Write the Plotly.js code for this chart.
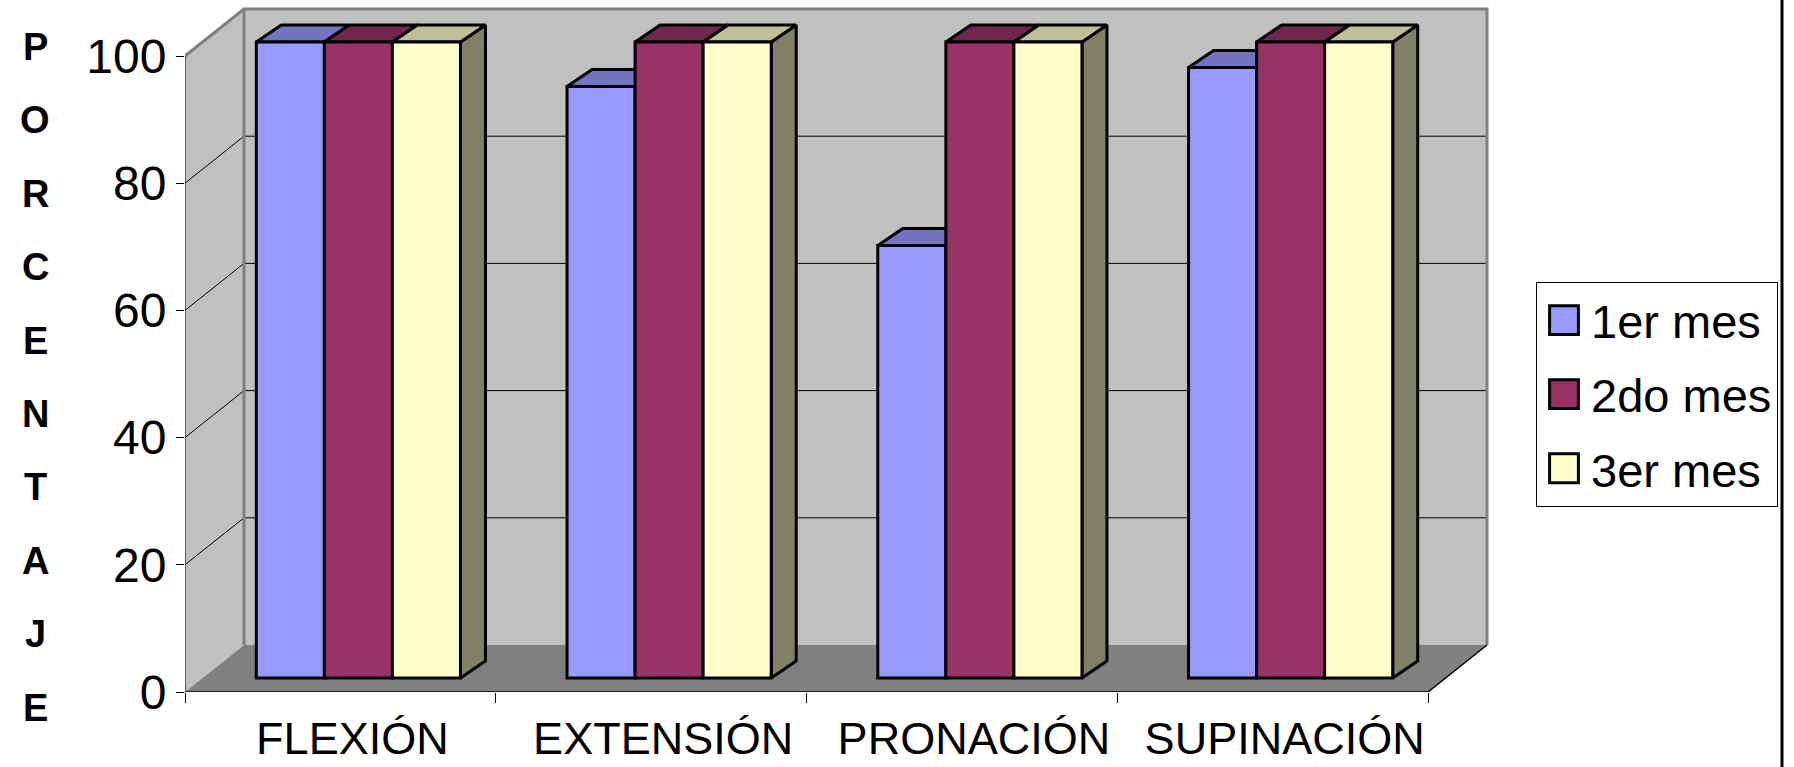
<!DOCTYPE html>
<html><head><meta charset="utf-8">
<script src="https://cdn.plot.ly/plotly-3.0.1.min.js"></script>
<style>html,body{margin:0;padding:0;background:#fff;} #chart{width:1794px;height:767px;}</style>
</head><body><div id="chart"></div>
<script>
// ---------- data ----------
const categories = ['FLEXIÓN', 'EXTENSIÓN', 'PRONACIÓN', 'SUPINACIÓN'];
const seriesNames = ['1er mes', '2do mes', '3er mes'];
const mes1 = [100, 93, 68, 96];
const mes2 = [100, 100, 100, 100];
const mes3 = [100, 100, 100, 100];
const yTickVals = [0, 20, 40, 60, 80, 100];
const axisTitle = 'PORCENTAJE';

// ---------- styles ----------
const FONT = 'Liberation Sans, Arial, Helvetica, sans-serif';
const frontColors = ['#9999FF', '#993366', '#FFFFCC'];
const topColors = ['#7373BF', '#73264C', '#BFBF99'];
const sideColors = ['#4C4C80', '#4C1933', '#808066'];

// ---------- geometry (pixels -> axis units) ----------
const W = 1794, H = 767;
const M = {l: 185, r: 302, t: 4, b: 75};
const plotW = W - M.l - M.r, plotH = H - M.t - M.b;
const pxX = 310.75, pxY = 6.36;
const xr0 = -0.5, xr1 = xr0 + plotW / pxX;
const yr1 = plotH / pxY;
const wallDX = 59 / pxX, wallDY = 47 / pxY;
const barSX = 18 / pxX, barSY = 14 / pxY;
const depthX = 25 / pxX, depthY = 17 / pxY;
const barW = 0.219;
const yMax = yTickVals[yTickVals.length - 1];
const xIdx = categories.map((_, i) => i);
const xl = -0.5, xrt = categories.length - 0.5;

const series = [mes1, mes2, mes3];

// 3D faces (sides and tops) computed from data
const faceTraces = [];
series.forEach((vals, s) => {
  const off = -1.5 * barW + s * barW;
  const sx = [], sy = [], tx = [], ty = [];
  vals.forEach((v, c) => {
    const L = c + off, R = L + barW;
    sx.push(R, R, R + depthX, R + depthX, R, null);
    sy.push(0, v, v + depthY, depthY, 0, null);
    tx.push(L, R, R + depthX, L + depthX, L, null);
    ty.push(v, v, v + depthY, v + depthY, v, null);
  });
  faceTraces.push({type: 'scatter', x: sx, y: sy, xaxis: 'x2', yaxis: 'y2', mode: 'lines',
    fill: 'toself', fillcolor: sideColors[s], line: {color: '#000', width: 3},
    hoverinfo: 'skip', showlegend: false});
  faceTraces.push({type: 'scatter', x: tx, y: ty, xaxis: 'x2', yaxis: 'y2', mode: 'lines',
    fill: 'toself', fillcolor: topColors[s], line: {color: '#000', width: 3},
    hoverinfo: 'skip', showlegend: false});
});

const barTraces = series.map((vals, s) => ({
  type: 'bar', name: seriesNames[s], x: xIdx, y: vals,
  width: barW, offset: -1.5 * barW + s * barW,
  xaxis: 'x3', yaxis: 'y3', legendgroup: 'g' + s,
  marker: {color: frontColors[s], line: {color: '#000', width: 3}}
}));

// ---------- walls, floor, grid ----------
const shapes = [];
const below = {xref: 'x', yref: 'y', layer: 'below'};
shapes.push(Object.assign({type: 'path',
  path: `M${xl},0 L${xl},${yMax} L${xl + wallDX},${yMax + wallDY} L${xl + wallDX},${wallDY} Z`,
  fillcolor: '#C0C0C0', line: {width: 0}}, below));
shapes.push(Object.assign({type: 'rect', x0: xl + wallDX, x1: xrt + wallDX, y0: wallDY, y1: yMax + wallDY,
  fillcolor: '#C0C0C0', line: {width: 0}}, below));
shapes.push(Object.assign({type: 'path',
  path: `M${xl},0 L${xrt},0 L${xrt + wallDX},${wallDY} L${xl + wallDX},${wallDY} Z`,
  fillcolor: '#808080', line: {width: 0}}, below));
yTickVals.filter(v => v > 0 && v < yMax).forEach(v => {
  shapes.push(Object.assign({type: 'line', x0: xl + wallDX, x1: xrt + wallDX, y0: v + wallDY, y1: v + wallDY,
    line: {color: '#000', width: 1}}, below));
  shapes.push(Object.assign({type: 'line', x0: xl, x1: xl + wallDX, y0: v, y1: v + wallDY,
    line: {color: '#000', width: 1}}, below));
});
shapes.push(Object.assign({type: 'path',
  path: `M${xl},${yMax} L${xl + wallDX},${yMax + wallDY} L${xrt + wallDX},${yMax + wallDY} L${xrt + wallDX},${wallDY}`,
  line: {color: '#808080', width: 3}}, below));
shapes.push(Object.assign({type: 'line', x0: xl + wallDX, x1: xl + wallDX, y0: wallDY, y1: yMax + wallDY,
  line: {color: '#808080', width: 3}}, below));
shapes.push(Object.assign({type: 'line', x0: xl, x1: xl, y0: 0, y1: yMax,
  line: {color: '#000', width: 1}}, below));
shapes.push(Object.assign({type: 'path',
  path: `M${xl},0 L${xrt},0 L${xrt + wallDX},${wallDY}`,
  line: {color: '#000', width: 1.5}}, below));
// right border of chart area
shapes.push({type: 'line', xref: 'paper', yref: 'paper',
  x0: (1782 - M.l) / plotW, x1: (1782 - M.l) / plotW, y0: -M.b / plotH - 0.01, y1: 1 + M.t / plotH + 0.01,
  line: {color: '#000', width: 3}});

// vertical stacked axis title
const annotations = axisTitle.split('').map((ch, i) => ({
  text: '<b>' + ch + '</b>', xref: 'paper', yref: 'paper',
  x: (35 - M.l) / plotW, y: (H - M.b - (47 + i * 73.4)) / plotH,
  xanchor: 'center', yanchor: 'middle', showarrow: false,
  font: {family: FONT, size: 38, color: '#000'}
}));

const layout = {
  width: W, height: H,
  margin: M,
  paper_bgcolor: '#fff', plot_bgcolor: '#fff',
  font: {family: FONT, color: '#000'},
  showlegend: true,
  barmode: 'overlay',
  xaxis: {range: [xr0, xr1], tickvals: xIdx, ticktext: categories, ticks: '',
    showgrid: false, zeroline: false, showline: false, tickangle: 0,
    tickfont: {family: FONT, size: 45, color: '#000'}, ticklabelshift: 12, ticklabelstandoff: 16,
    minor: {tick0: -0.5, dtick: 1, tickmode: 'linear', ticks: 'outside', ticklen: 10, tickcolor: '#000', tickwidth: 1, showgrid: false},
    fixedrange: true},
  yaxis: {range: [0, yr1], tickvals: yTickVals, ticks: 'outside', ticklen: 8, tickcolor: '#000', tickwidth: 1,
    showgrid: false, zeroline: false, showline: false,
    tickfont: {family: FONT, size: 48, color: '#000'}, fixedrange: true},
  xaxis2: {overlaying: 'x', range: [xr0 - barSX, xr1 - barSX], visible: false, fixedrange: true},
  yaxis2: {overlaying: 'y', range: [-barSY, yr1 - barSY], visible: false, fixedrange: true},
  xaxis3: {overlaying: 'x', range: [xr0 - barSX, xr1 - barSX], visible: false, fixedrange: true},
  yaxis3: {overlaying: 'y', range: [-barSY, yr1 - barSY], visible: false, fixedrange: true},
  legend: {x: (1536 - M.l) / plotW, xanchor: 'left', y: (H - M.b - 282) / plotH, yanchor: 'top',
    bgcolor: '#fff', bordercolor: '#000', borderwidth: 1,
    font: {family: FONT, size: 47, color: '#000'},
    traceorder: 'grouped', tracegroupgap: 10, itemwidth: 44},
  shapes: shapes,
  annotations: annotations
};

Plotly.newPlot('chart', faceTraces.concat(barTraces), layout, {displayModeBar: false}).then(gd => {
  gd.querySelectorAll('.legend .legendpoints path').forEach(p => {
    const t = p.getAttribute('transform') || '';
    p.setAttribute('transform', t + ' scale(2.4)');
    p.style.strokeWidth = (3 / 2.4) + 'px';
  });
});
</script>
</body></html>
